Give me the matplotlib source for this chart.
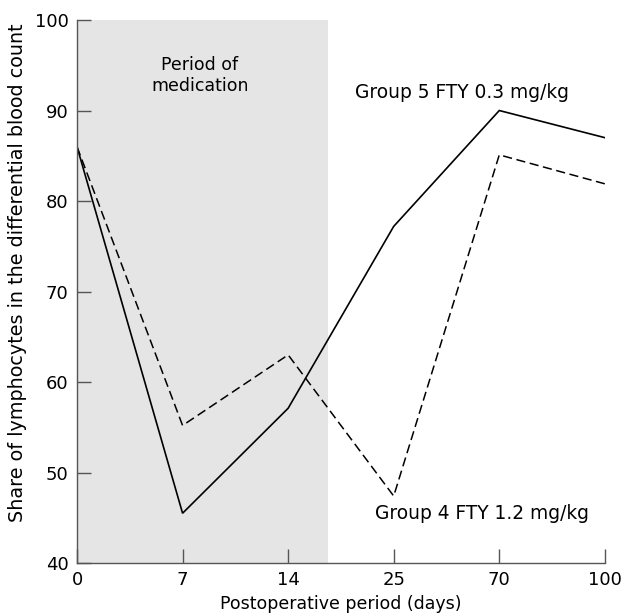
import matplotlib
matplotlib.use("Agg")
import matplotlib.pyplot as plt

days = ["0", "7", "14", "25", "70", "100"]
group5 = [86, 45.5, 57.1, 77.2, 90.0, 87.0]   # FTY 0.3 mg/kg (solid)
group4 = [86, 55.2, 63.0, 47.4, 85.1, 81.9]   # FTY 1.2 mg/kg (dashed)
yticks = [40, 50, 60, 70, 80, 90, 100]
medication_end = 2.38  # position (in category units) where the medication period ends

plt.rcParams['font.family'] = ['DejaVu Sans']
fig = plt.figure(figsize=(6.21, 6.16), dpi=100)
ax = fig.add_axes([0.124, 0.086, 0.850, 0.8815])

x = list(range(len(days)))
ax.axvspan(0, medication_end, color="#e5e5e5", zorder=0, lw=0)
ax.plot(x, group5, color="black", lw=1.2, solid_joinstyle="miter")
ax.plot(x, group4, color="black", lw=1.1, linestyle=(0, (6, 3)))

ax.set_xlim(0, len(days) - 1)
ax.set_ylim(40, 100)
ax.set_xticks(x)
ax.set_xticklabels(days)
ax.set_yticks(yticks)

for s in ["top", "right"]:
    ax.spines[s].set_visible(False)
for s in ["left", "bottom"]:
    ax.spines[s].set_color("#555555")
    ax.spines[s].set_linewidth(1.0)
ax.tick_params(direction="in", length=10, width=1.0, color="#555555",
               labelsize=13, pad=6)

ax.set_xlabel("Postoperative period (days)", fontsize=12.5, labelpad=4)
ax.set_ylabel("Share of lymphocytes in the differential blood count", fontsize=13.8)
ax.yaxis.set_label_coords(-0.095, 0.535)

ax.text(1.165, 93.9, "Period of\nmedication", ha="center", va="center", fontsize=12.5, linespacing=1.2)
ax.text(2.63, 92.0, "Group 5 FTY 0.3 mg/kg", ha="left", va="center", fontsize=13.4)
ax.text(2.82, 45.5, "Group 4 FTY 1.2 mg/kg", ha="left", va="center", fontsize=13.4)

fig.savefig("out.png", dpi=100)
